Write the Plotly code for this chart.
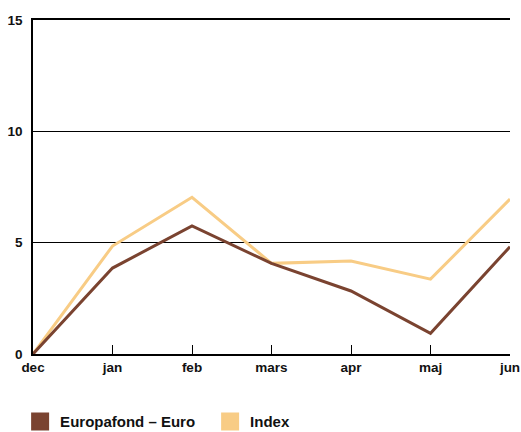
import plotly.graph_objects as go

months = ["dec", "jan", "feb", "mars", "apr", "maj", "jun"]
europafond = [0, 3.86, 5.75, 4.07, 2.83, 0.93, 4.82]
index_vals = [0, 4.85, 7.04, 4.07, 4.18, 3.36, 6.96]
y_ticks = [0, 5, 10, 15]

brown = "#7a4330"
light = "#f8cc85"
tick_font = dict(family="Liberation Sans, Arial, sans-serif", size=13.5, color="#111111", weight="bold")
legend_font = dict(family="Liberation Sans, Arial, sans-serif", size=15, color="#111111", weight="bold")

fig = go.Figure()
fig.add_trace(go.Scatter(x=months, y=index_vals, mode="lines",
                         line=dict(color=light, width=3), showlegend=False))
fig.add_trace(go.Scatter(x=months, y=europafond, mode="lines",
                         line=dict(color=brown, width=3), showlegend=False))
fig.add_trace(go.Scatter(x=[None], y=[None], mode="markers", name="Europafond – Euro",
                         marker=dict(symbol="square", size=16, color=brown,
                                     line=dict(color=brown, width=2))))
fig.add_trace(go.Scatter(x=[None], y=[None], mode="markers", name="Index",
                         marker=dict(symbol="square", size=16, color=light,
                                     line=dict(color=light, width=2))))

fig.update_layout(
    width=521, height=432,
    margin=dict(l=33, r=11, t=20, b=78, autoexpand=False),
    paper_bgcolor="white", plot_bgcolor="white",
    font=tick_font,
    legend=dict(orientation="h", x=-0.027, xanchor="left", y=-0.203, yanchor="middle",
                font=legend_font, entrywidth=145, entrywidthmode="pixels",
                tracegroupgap=0, traceorder="normal"),
    xaxis=dict(type="category", range=[0, 6], showgrid=False, showline=True,
               mirror=True, automargin=False, ticklabeloverflow="allow",
               linecolor="black", linewidth=1.5, ticks="inside", ticklen=9,
               tickcolor="black", tickwidth=1, tickfont=tick_font, zeroline=False),
    yaxis=dict(range=[0, 15], tickvals=y_ticks, showgrid=True, gridcolor="black",
               gridwidth=1.2, showline=True, linecolor="black", linewidth=1.5,
               automargin=False, ticks="", tickfont=tick_font, zeroline=False,
               ticklabelstandoff=6),
)

fig.write_html("out.html", config={"displayModeBar": False},
               post_script="document.body.style.margin='0';")
